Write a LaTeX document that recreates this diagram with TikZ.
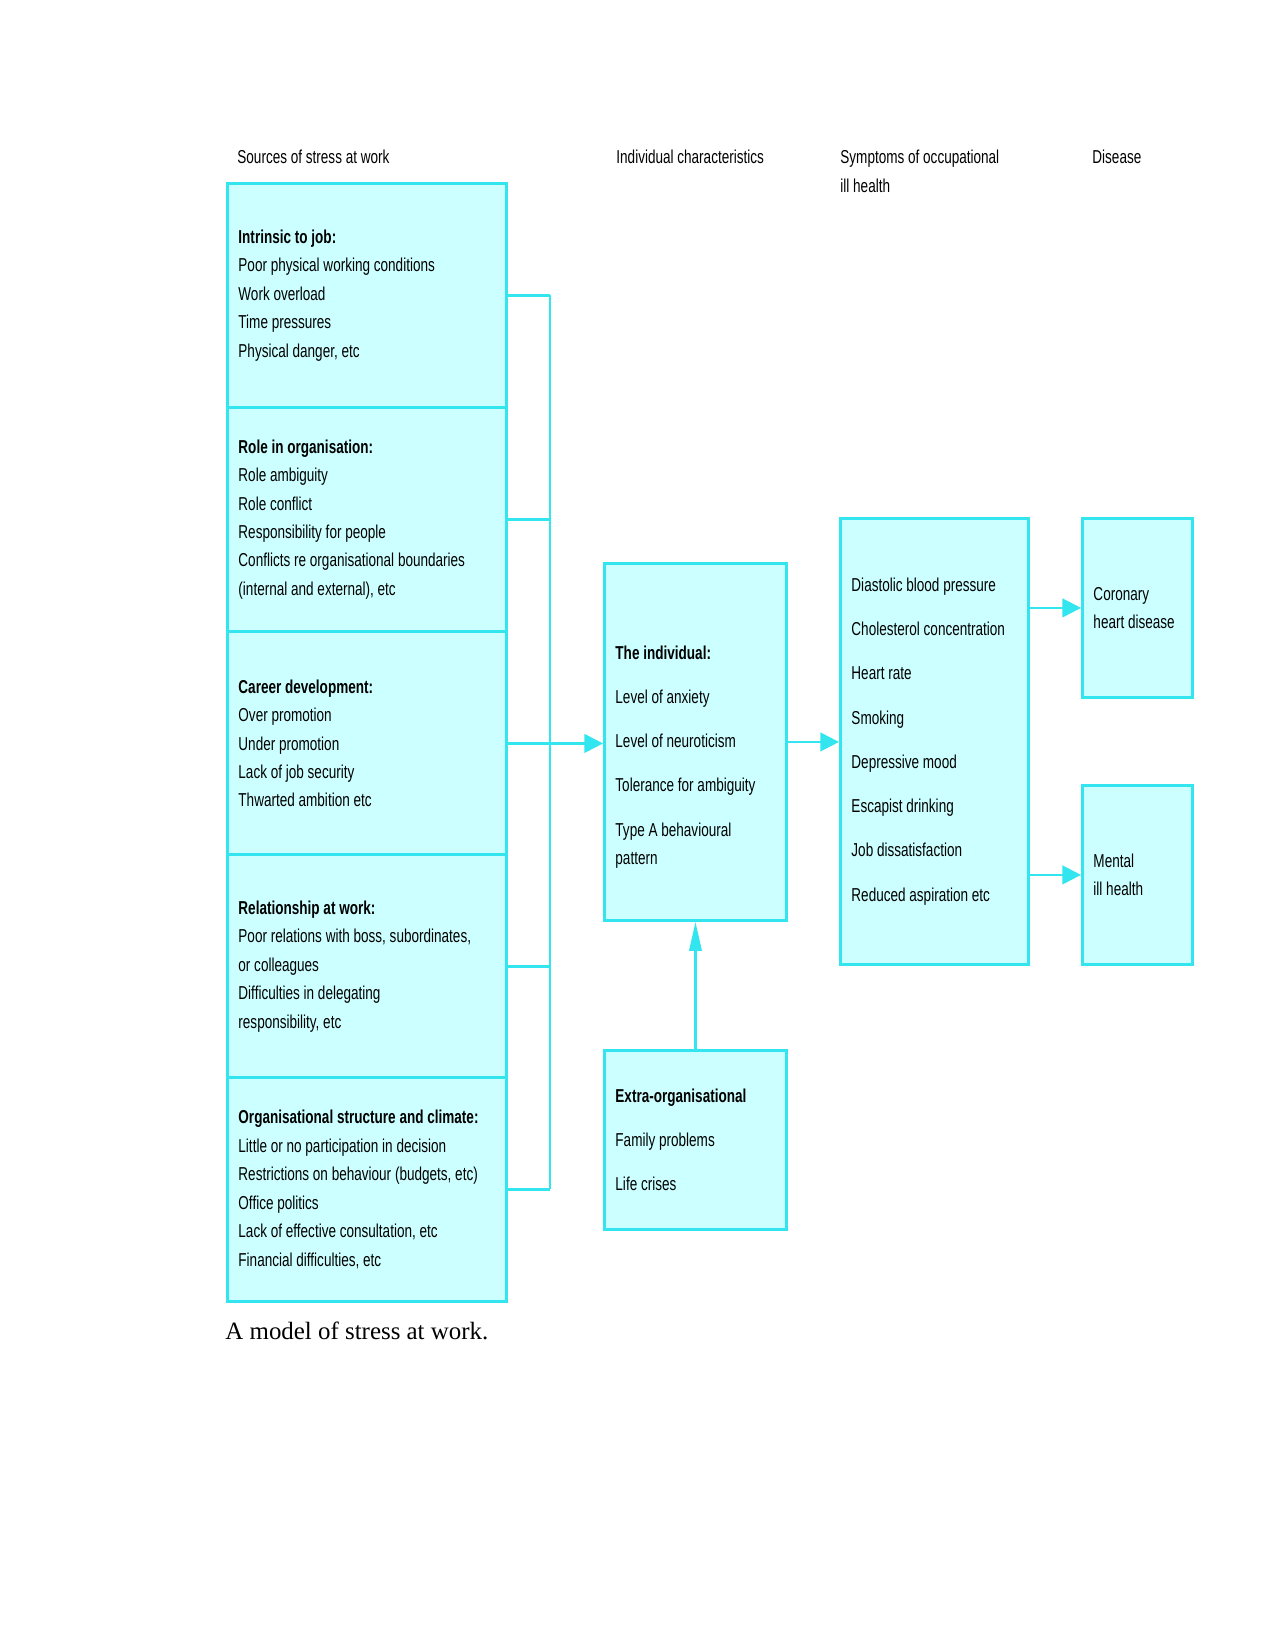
\documentclass[tikz,border=0pt]{standalone}
\usepackage{fontspec}
\setmainfont{Liberation Serif}
\newfontfamily\boxfont[FakeStretch=0.725]{Liberation Sans}
\usetikzlibrary{
		arrows.meta,
		positioning
	}
\tikzset{
		>={Triangle[length=9pt,width=9pt]}
	}
\definecolor{cyanfill}{HTML}{CCFFFF}
\definecolor{cyanline}{HTML}{33E5EF}
\tikzset{
		stressbox/.style={draw=cyanline, fill=cyanfill, line width=1.4pt, anchor=north west,
			align=flush left, inner xsep=5.3pt, font=\boxfont\fontsize{9}{13.7}\selectfont},
		link/.style={draw=cyanline, line width=1.1pt},
		colhead/.style={anchor=base west, align=flush left, inner sep=0pt,
			font=\boxfont\fontsize{9}{13.7}\selectfont}
	}

\begin{document}
\begin{tikzpicture}[x=0.4818pt, y=-0.4818pt]
            \useasboundingbox (0,0) rectangle (1275,1651);

            % column headings
            \node[colhead] (h-src) at (237,164) {Sources of stress at work};
            \node[colhead] (h-ind) at (616,164) {Individual characteristics};
            \node[colhead, text width=120pt] (h-sym) at (840,164) {Symptoms of occupational\\ill health};
            \node[colhead] (h-dis) at (1092,164) {Disease};

            % sources of stress
            \node[stressbox, minimum width=134.4pt, minimum height=107.9pt, text width=123.8pt] (intr) at (226,182)
                {\textbf{Intrinsic to job:}\\Poor physical working conditions\\Work overload\\Time pressures\\Physical danger, etc};
            \node[stressbox, minimum width=134.4pt, minimum height=107.9pt, text width=123.8pt] (role) at (226,406)
                {\textbf{Role in organisation:}\\Role ambiguity\\Role conflict\\Responsibility for people\\Conflicts re organisational boundaries\\(internal and external), etc};
            \node[stressbox, minimum width=134.4pt, minimum height=107.9pt, text width=123.8pt] (care) at (226,630)
                {\textbf{Career development:}\\Over promotion\\Under promotion\\Lack of job security\\Thwarted ambition etc};
            \node[stressbox, minimum width=134.4pt, minimum height=107.9pt, text width=123.8pt] (rela) at (226,853)
                {\textbf{Relationship at work:}\\Poor relations with boss, subordinates,\\or colleagues\\Difficulties in delegating\\responsibility, etc};
            \node[stressbox, minimum width=134.4pt, minimum height=107.9pt, text width=123.8pt] (orgs) at (226,1076)
                {\textbf{Organisational structure and climate:}\\Little or no participation in decision\\Restrictions on behaviour (budgets, etc)\\Office politics\\Lack of effective consultation, etc\\Financial difficulties, etc};

            % individual and extra-organisational
            \node[stressbox, minimum width=87.7pt, minimum height=172pt, text width=77.1pt] (indiv) at (603,562)
                {\rule{0pt}{21pt}\textbf{The individual:}\\[7.6pt]Level of anxiety\\[7.6pt]Level of neuroticism\\[7.6pt]Tolerance for ambiguity\\[7.6pt]Type A behavioural\\pattern};
            \node[stressbox, minimum width=87.7pt, minimum height=86.2pt, text width=77.1pt] (extra) at (603,1049)
                {\textbf{Extra-organisational}\\[7.6pt]Family problems\\[7.6pt]Life crises};

            % symptoms and disease
            \node[stressbox, minimum width=90.6pt, minimum height=214.9pt, text width=80pt] (symp) at (839,517)
                {Diastolic blood pressure\\[7.6pt]Cholesterol concentration\\[7.6pt]Heart rate\\[7.6pt]Smoking\\[7.6pt]Depressive mood\\[7.6pt]Escapist drinking\\[7.6pt]Job dissatisfaction\\[7.6pt]Reduced aspiration etc};
            \node[stressbox, minimum width=53pt, minimum height=86.2pt, text width=42.4pt] (coro) at (1081,517)
                {Coronary\\heart disease};
            \node[stressbox, minimum width=53pt, minimum height=86.2pt, text width=42.4pt] (ment) at (1081,784)
                {Mental\\ill health};

            % connectors
            \coordinate (bus) at (550,0);
            \foreach \b in {intr,role,care,rela,orgs}
            \draw[link] (\b.east) -- (\b.east -| bus);
            \draw[link] (intr.east -| bus) -- (orgs.east -| bus);
            \draw[link, ->] (care.east) -- (care.east -| indiv.west);
            \draw[link, ->] (indiv.east) -- (indiv.east -| symp.west);
            \draw[link, ->] (symp.east |- coro.west) -- (coro.west);
            \draw[link, ->] (symp.east |- ment.west) -- (ment.west);
            \draw[link, -{Triangle[length=14pt,width=6pt]}] (extra.north) -- (indiv.south);

            % caption
            \node[anchor=base west, inner sep=0pt, font=\fontsize{12}{14}\selectfont] (cap) at (225,1339) {A model of stress at work.};
        \end{tikzpicture}
\end{document}
